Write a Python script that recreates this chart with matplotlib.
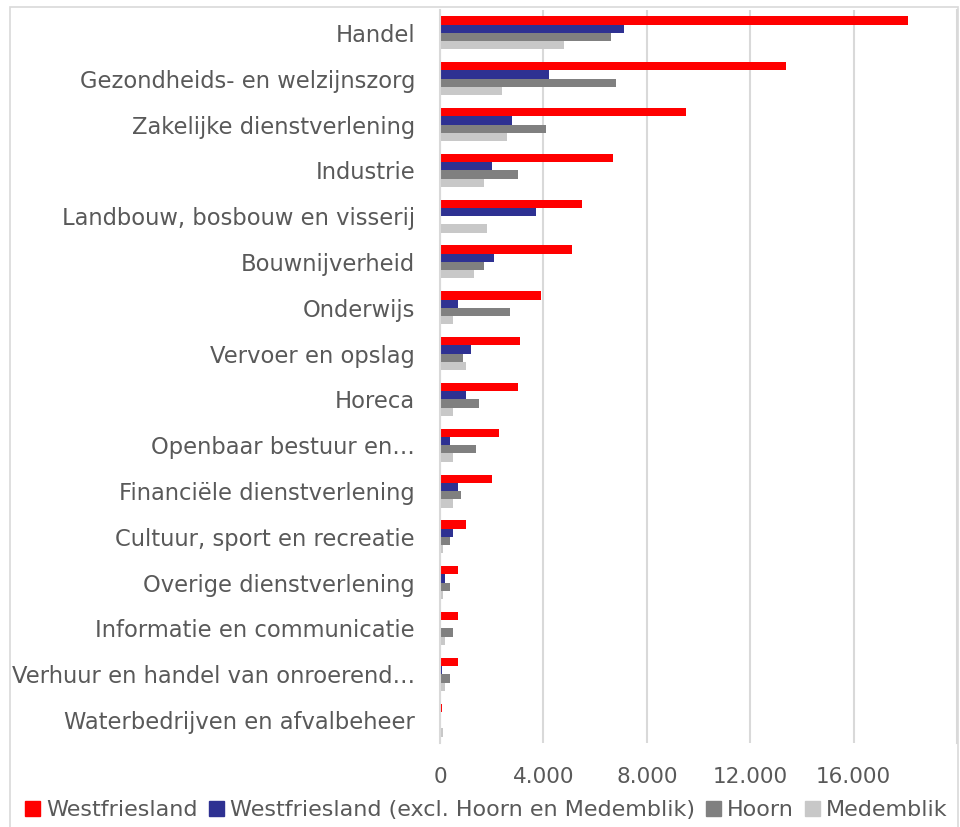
import matplotlib.pyplot as plt
import numpy as np
from matplotlib.patches import Rectangle, Patch

# sectors, top to bottom
sectors = [
    "Handel",
    "Gezondheids- en welzijnszorg",
    "Zakelijke dienstverlening",
    "Industrie",
    "Landbouw, bosbouw en visserij",
    "Bouwnijverheid",
    "Onderwijs",
    "Vervoer en opslag",
    "Horeca",
    "Openbaar bestuur en\u2026",
    "Financi\u00eble dienstverlening",
    "Cultuur, sport en recreatie",
    "Overige dienstverlening",
    "Informatie en communicatie",
    "Verhuur en handel van onroerend\u2026",
    "Waterbedrijven en afvalbeheer",
]

westfriesland = [18100, 13400, 9500, 6700, 5500, 5100, 3900, 3100, 3000, 2300, 2000, 1000, 700, 700, 700, 80]
wf_excl = [7100, 4200, 2800, 2000, 3700, 2100, 700, 1200, 1000, 400, 700, 500, 200, 0, 80, 0]
hoorn = [6600, 6800, 4100, 3000, 0, 1700, 2700, 900, 1500, 1400, 800, 400, 400, 500, 400, 0]
medemblik = [4800, 2400, 2600, 1700, 1800, 1300, 500, 1000, 500, 500, 500, 100, 100, 200, 200, 100]

series = ["Westfriesland", "Westfriesland (excl. Hoorn en Medemblik)", "Hoorn", "Medemblik"]
colors = ["#ff0000", "#2e3192", "#808080", "#c8c8c8"]
xticks = [0, 4000, 8000, 12000, 16000]
xtick_labels = ["0", "4.000", "8.000", "12.000", "16.000"]

txt = "#595959"
grid = "#d9d9d9"
plt.rcParams['font.family'] = ['DejaVu Sans']

fig = plt.figure(figsize=(9.6, 8.27), dpi=100)
ax = fig.add_axes([440/960, 1-743/827, (957-440)/960, (743-10)/827])

y = np.arange(len(sectors))
h = 0.18
for i, (vals, c) in enumerate(zip([westfriesland, wf_excl, hoorn, medemblik], colors)):
    ax.barh(y + (i - 1.5)*h, vals, height=h, color=c, label=series[i], zorder=3)

ax.set_ylim(len(sectors) - 0.5, -0.5)
ax.set_xlim(0, 20000)
ax.set_xticks(xticks)
ax.set_xticklabels(xtick_labels, fontsize=15.5)
ax.set_yticks(y)
ax.set_yticklabels(sectors, fontsize=16.3)
ax.tick_params(axis='both', length=0, colors=txt)
ax.tick_params(axis='y', pad=18)
ax.tick_params(axis='x', pad=17)
for s in ["top", "bottom"]:
    ax.spines[s].set_visible(False)
ax.spines["left"].set_color(grid)
ax.spines["left"].set_linewidth(1.5)
ax.spines["left"].set_zorder(4)
ax.spines["right"].set_color(grid)
ax.spines["right"].set_linewidth(1.5)
ax.xaxis.grid(True, color=grid, linewidth=1.5, zorder=0)

# chart border
fig.add_artist(Rectangle((10/960, -0.05), (958-10)/960, 1.05 - 7/827, transform=fig.transFigure,
                         fill=False, edgecolor=grid, linewidth=1.2))

handles = [Patch(color=c) for c in colors]
fig.legend(handles, series, loc="lower left", bbox_to_anchor=(0.012, -0.008), ncol=4,
           frameon=False, fontsize=16, labelcolor=txt, handlelength=0.7, handleheight=0.7,
           handletextpad=0.25, columnspacing=0.5, borderaxespad=0.2)

fig.savefig("out.png", dpi=100)
